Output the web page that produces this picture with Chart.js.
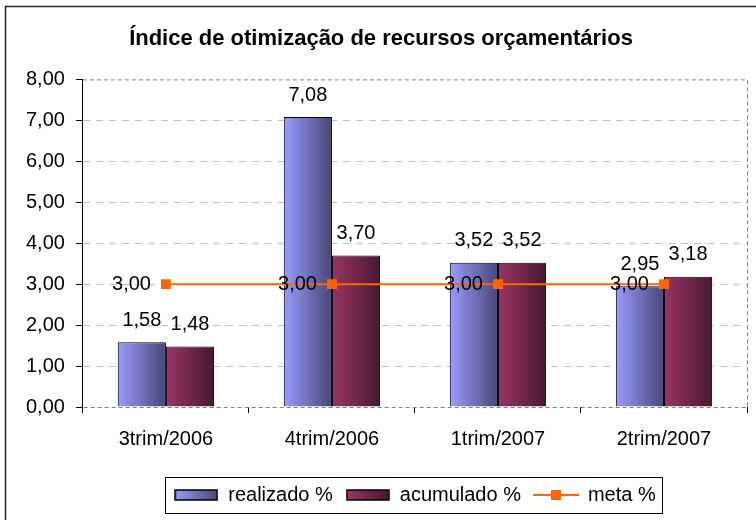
<!DOCTYPE html>
<html>
<head>
<meta charset="utf-8">
<script src="https://cdn.jsdelivr.net/npm/chart.js@4/dist/chart.umd.min.js"></script>
<style>
  html, body { margin: 0; padding: 0; background: #fff; }
  #wrap { width: 756px; height: 520px; }
</style>
</head>
<body>
<div id="wrap"><canvas id="indiceChart" width="756" height="520"></canvas></div>
<script>
// Data
const categories = ['3trim/2006', '4trim/2006', '1trim/2007', '2trim/2007'];
const realizado = [1.58, 7.08, 3.52, 2.95];
const acumulado = [1.48, 3.70, 3.52, 3.18];
const meta = [3.00, 3.00, 3.00, 3.00];
const yTicks = [0, 1, 2, 3, 4, 5, 6, 7, 8];

const fmt = v => v.toFixed(2).replace('.', ',');

Chart.defaults.font.family = '"Liberation Sans", Arial, sans-serif';
Chart.defaults.font.size = 20;
Chart.defaults.color = '#000';

const blueStops = ['#9b9bff', '#474776'];
const redStops = ['#9a3566', '#471830'];

// legend swatches drawn on small canvases
function barSwatch(stops) {
  const c = document.createElement('canvas');
  c.width = 44; c.height = 12;
  const x = c.getContext('2d');
  const g = x.createLinearGradient(1, 0, 43, 0);
  g.addColorStop(0, stops[0]);
  g.addColorStop(1, stops[1]);
  x.fillStyle = g;
  x.fillRect(1, 1, 42, 10);
  x.strokeStyle = '#000';
  x.lineWidth = 1.5;
  x.strokeRect(1, 1, 42, 10);
  return c;
}
function lineSwatch() {
  const c = document.createElement('canvas');
  c.width = 46; c.height = 12;
  const x = c.getContext('2d');
  x.strokeStyle = '#ff6600';
  x.lineWidth = 2;
  x.beginPath(); x.moveTo(0, 6); x.lineTo(46, 6); x.stroke();
  x.fillStyle = '#ff6600';
  x.fillRect(18, 1, 10, 10);
  return c;
}

// horizontal gradient on every bar
const gradientBars = {
  id: 'gradientBars',
  beforeDatasetsDraw(chart) {
    const ctx = chart.ctx;
    [[0, blueStops], [1, redStops]].forEach(([i, stops]) => {
      chart.getDatasetMeta(i).data.forEach(el => {
        const g = ctx.createLinearGradient(el.x - el.width / 2, 0, el.x + el.width / 2, 0);
        g.addColorStop(0, stops[0]);
        g.addColorStop(1, stops[1]);
        el.options.backgroundColor = g;
      });
    });
    // dashed plot frame (top, right, bottom)
    const a = chart.chartArea;
    ctx.save();
    ctx.strokeStyle = '#808080';
    ctx.lineWidth = 1;
    ctx.setLineDash([4, 3]);
    ctx.beginPath();
    ctx.moveTo(a.left, a.top + 0.5); ctx.lineTo(a.right + 0.5, a.top + 0.5);
    ctx.lineTo(a.right + 0.5, a.bottom + 0.5); ctx.lineTo(a.left, a.bottom + 0.5);
    ctx.stroke();
    ctx.restore();
  }
};

// value labels
const valueLabels = {
  id: 'valueLabels',
  afterDatasetsDraw(chart) {
    const ctx = chart.ctx;
    ctx.save();
    ctx.font = '20px "Liberation Sans", Arial, sans-serif';
    ctx.fillStyle = '#000';
    [0, 1].forEach(i => {
      const ds = chart.data.datasets[i];
      chart.getDatasetMeta(i).data.forEach((el, j) => {
        ctx.textAlign = 'center';
        ctx.textBaseline = 'bottom';
        ctx.fillText(fmt(ds.data[j]), el.x, el.y - 12);
      });
    });
    const line = chart.data.datasets[2];
    chart.getDatasetMeta(2).data.forEach((el, j) => {
      ctx.textAlign = 'right';
      ctx.textBaseline = 'middle';
      ctx.fillText(fmt(line.data[j]), el.x - 15, el.y);
    });
    ctx.restore();
  }
};

// outer frame, legend shift and legend frame
const frames = {
  id: 'frames',
  afterLayout(chart) {
    chart.legend.left += 34;
    chart.legend.right += 34;
  },
  beforeDraw(chart) {
    const ctx = chart.ctx;
    ctx.save();
    ctx.fillStyle = '#fff';
    ctx.fillRect(0, 0, chart.width, chart.height);
    ctx.strokeStyle = '#222';
    ctx.lineWidth = 1.5;
    ctx.strokeRect(5.5, 6.5, chart.width + 20, chart.height + 20);
    ctx.restore();
  },
  afterDraw(chart) {
    const boxes = chart.legend.legendHitBoxes;
    if (!boxes || !boxes.length) return;
    const l = Math.min(...boxes.map(b => b.left)) - 9;
    const r = Math.max(...boxes.map(b => b.left + b.width)) + 7;
    const t = Math.min(...boxes.map(b => b.top)) - 8;
    const btm = Math.max(...boxes.map(b => b.top + b.height)) + 8;
    const ctx = chart.ctx;
    ctx.save();
    ctx.strokeStyle = '#000';
    ctx.lineWidth = 1;
    ctx.strokeRect(Math.round(l) + 0.5, Math.round(t) + 0.5, Math.round(r - l), Math.round(btm - t));
    ctx.restore();
  }
};

const swatches = [barSwatch(blueStops), barSwatch(redStops), lineSwatch()];

new Chart(document.getElementById('indiceChart'), {
  type: 'bar',
  data: {
    labels: categories,
    datasets: [
      {
        label: 'realizado %',
        data: realizado,
        backgroundColor: () => blueStops[0],
        borderColor: '#000',
        borderWidth: 1,
        categoryPercentage: 0.58,
        barPercentage: 1,
        order: 2
      },
      {
        label: 'acumulado %',
        data: acumulado,
        backgroundColor: () => redStops[0],
        borderColor: '#000',
        borderWidth: 1,
        categoryPercentage: 0.58,
        barPercentage: 1,
        order: 2
      },
      {
        type: 'line',
        label: 'meta %',
        data: meta,
        borderColor: '#ff6600',
        backgroundColor: '#ff6600',
        borderWidth: 2,
        pointStyle: 'rect',
        pointRadius: 7,
        pointBorderWidth: 0,
        order: 1
      }
    ]
  },
  options: {
    responsive: false,
    animation: false,
    layout: { padding: { left: 15, right: 9, top: 26, bottom: 5 } },
    plugins: {
      title: {
        display: true,
        text: 'Índice de otimização de recursos orçamentários',
        font: { size: 22, weight: 'bold' },
        padding: { top: 0, bottom: 27 }
      },
      legend: {
        position: 'bottom',
        labels: {
          usePointStyle: true,
          pointStyleWidth: 44,
          boxHeight: 12,
          padding: 13,
          generateLabels: chart => chart.data.datasets.map((ds, i) => ({
            text: ds.label,
            pointStyle: swatches[i],
            fillStyle: 'transparent',
            strokeStyle: 'transparent',
            lineWidth: 0,
            hidden: false,
            datasetIndex: i
          }))
        }
      },
      tooltip: { enabled: false }
    },
    scales: {
      x: {
        grid: { offset: true, drawOnChartArea: false, drawTicks: true, tickLength: 6, tickColor: '#000' },
        border: { display: false },
        ticks: { padding: 14 },
        afterFit: scale => { scale.height += 7; }
      },
      y: {
        min: yTicks[0],
        max: yTicks[yTicks.length - 1],
        ticks: { stepSize: 1, padding: 11, callback: v => fmt(v) },
        grid: {
          color: c => (c.tick && (c.tick.value === yTicks[0] || c.tick.value === yTicks[yTicks.length - 1])) ? 'rgba(0,0,0,0)' : '#c0c0c0',
          tickLength: 7,
          tickColor: '#000'
        },
        border: { display: true, color: '#000', width: 1, dash: [7, 6] }
      }
    }
  },
  plugins: [gradientBars, valueLabels, frames]
});
</script>
</body>
</html>
